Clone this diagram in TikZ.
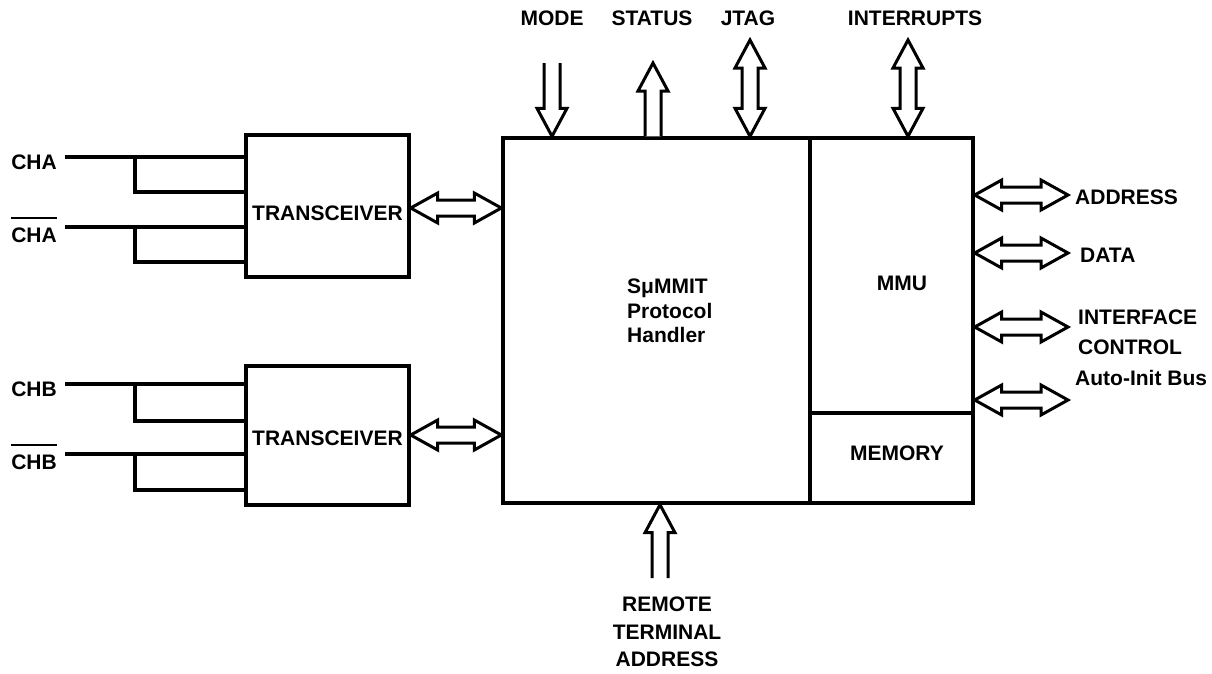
\documentclass[tikz,border=0pt]{standalone}
\usepackage{fontspec}
\setmainfont{Liberation Sans}
\usetikzlibrary{calc}
\newcommand\lblfont{\bfseries\fontsize{21}{27.5}\selectfont}
\tikzset{
  box/.style={draw, line width=3.4pt, inner sep=0pt},
  lbl/.style={inner sep=0pt, font=\lblfont, align=center},
  wire/.style={line width=3.2pt, line cap=rect},
  arr/.style={line width=3pt, line join=miter, fill=white},
  barline/.style={line width=2pt},
}
% horizontal double arrow: #1 left tip, #2 right tip
\newcommand\hdbl[2]{\draw[arr] (#1) -- ($(#1)+(27,-15)$) -- ($(#1)+(27,-8)$) -- ($(#2)+(-27,-8)$) -- ($(#2)+(-27,-15)$) -- (#2) -- ($(#2)+(-27,15)$) -- ($(#2)+(-27,8)$) -- ($(#1)+(27,8)$) -- ($(#1)+(27,15)$) -- cycle;}
% vertical double arrow: #1 top tip, #2 bottom tip
\newcommand\vdbl[2]{\draw[arr] (#1) -- ($(#1)+(15,28)$) -- ($(#1)+(8,28)$) -- ($(#2)+(8,-28)$) -- ($(#2)+(15,-28)$) -- (#2) -- ($(#2)+(-15,-28)$) -- ($(#2)+(-8,-28)$) -- ($(#1)+(-8,28)$) -- ($(#1)+(-15,28)$) -- cycle;}
% up arrow: #1 tip (top), #2 open tail (bottom)
\newcommand\uparr[2]{\draw[arr] ($(#2)+(-8,0)$) -- ($(#1)+(-8,28)$) -- ($(#1)+(-15,28)$) -- (#1) -- ($(#1)+(15,28)$) -- ($(#1)+(8,28)$) -- ($(#2)+(8,0)$);}
% down arrow: #1 open tail (top), #2 tip (bottom)
\newcommand\dnarr[2]{\draw[arr] ($(#1)+(-8,0)$) -- ($(#2)+(-8,-28)$) -- ($(#2)+(-15,-28)$) -- (#2) -- ($(#2)+(15,-28)$) -- ($(#2)+(8,-28)$) -- ($(#1)+(8,0)$);}
\begin{document}
\begin{tikzpicture}[x=1pt,y=-1pt]
\useasboundingbox[fill=white] (0,0) rectangle (1212,673);

% blocks
\node[box, minimum width=163pt, minimum height=142pt] (trx1) at (327.5,206) {};
\node[box, minimum width=163pt, minimum height=139pt] (trx2) at (327.5,435.5) {};
\node[box, minimum width=307pt, minimum height=365pt] (main) at (656.5,320.5) {};
\node[box, minimum width=163pt, minimum height=275pt] (mmu) at (891.5,275.5) {};
\node[box, minimum width=163pt, minimum height=90pt] (mem) at (891.5,458) {};

\node[lbl] (trx1t) at (327.5,213) {TRANSCEIVER};
\node[lbl] (trx2t) at (327.5,438) {TRANSCEIVER};
\node[lbl, anchor=west, align=left, font=\bfseries\fontsize{21}{24.5}\selectfont] (maint) at (627,311) {SμMMIT\\Protocol\\Handler};
\node[lbl] (mmut) at (902,283) {MMU};
\node[lbl] (memt) at (897,453) {MEMORY};

% channel labels
\node[lbl] (cha) at (34,162) {CHA};
\node[lbl] (chan) at (34,235) {CHA};
\draw[barline] ([yshift=9pt]chan.north west) -- ([yshift=9pt]chan.north east);
\node[lbl] (chb) at (34,389) {CHB};
\node[lbl] (chbn) at (34,462) {CHB};
\draw[barline] ([yshift=9pt]chbn.north west) -- ([yshift=9pt]chbn.north east);

% channel wires
\coordinate (w1) at (67,157);  \coordinate (j1) at (135,157); \coordinate (k1) at (135,192);
\coordinate (w2) at (67,227);  \coordinate (j2) at (135,227); \coordinate (k2) at (135,262);
\coordinate (w3) at (67,384);  \coordinate (j3) at (135,384); \coordinate (k3) at (135,421);
\coordinate (w4) at (67,454);  \coordinate (j4) at (135,454); \coordinate (k4) at (135,490);
\draw[wire] (w1) -- (w1 -| trx1.west);
\draw[wire] (j1) -- (k1) -- (k1 -| trx1.west);
\draw[wire] (w2) -- (w2 -| trx1.west);
\draw[wire] (j2) -- (k2) -- (k2 -| trx1.west);
\draw[wire] (w3) -- (w3 -| trx2.west);
\draw[wire] (j3) -- (k3) -- (k3 -| trx2.west);
\draw[wire] (w4) -- (w4 -| trx2.west);
\draw[wire] (j4) -- (k4) -- (k4 -| trx2.west);

% transceiver <-> protocol handler
\coordinate (t1a) at (trx1.east |- 0,208); \coordinate (t1b) at (main.west |- 0,208);
\coordinate (t2a) at (trx2.east |- 0,435); \coordinate (t2b) at (main.west |- 0,435);
\hdbl{t1a}{t1b}
\hdbl{t2a}{t2b}

% top signals
\node[lbl] (mode) at (552,18) {MODE};
\node[lbl] (status) at (652,18) {STATUS};
\node[lbl] (jtag) at (748,18) {JTAG};
\node[lbl] (intr) at (915,18) {INTERRUPTS};
\coordinate (modeA) at (552,63); \coordinate (modeB) at (modeA |- main.north);
\coordinate (statA) at (653,63); \coordinate (statB) at (statA |- main.north);
\coordinate (jtagA) at (750,40); \coordinate (jtagB) at (jtagA |- main.north);
\coordinate (intA) at (908,40); \coordinate (intB) at (intA |- mmu.north);
\dnarr{modeA}{modeB}
\uparr{statA}{statB}
\vdbl{jtagA}{jtagB}
\vdbl{intA}{intB}

% bottom signal
\coordinate (rtaB) at (660,578); \coordinate (rtaA) at (rtaB |- main.south);
\uparr{rtaA}{rtaB}
\node[lbl] (rta) at (667,632) {REMOTE\\TERMINAL\\ADDRESS};

% right side buses
\coordinate (ra1) at (mmu.east |- 0,195); \coordinate (rb1) at (1068,195);
\coordinate (ra2) at (mmu.east |- 0,253); \coordinate (rb2) at (1068,253);
\coordinate (ra3) at (mmu.east |- 0,327); \coordinate (rb3) at (1068,327);
\coordinate (ra4) at (mmu.east |- 0,400); \coordinate (rb4) at (1068,400);
\hdbl{ra1}{rb1}
\hdbl{ra2}{rb2}
\hdbl{ra3}{rb3}
\hdbl{ra4}{rb4}
\node[lbl, anchor=west] (addr) at (1075,197) {ADDRESS};
\node[lbl, anchor=west] (data) at (1080,255) {DATA};
\node[lbl, anchor=west, align=left, font=\bfseries\fontsize{21}{30}\selectfont] (ifc) at (1078,332) {INTERFACE\\CONTROL};
\node[lbl, anchor=west] (aib) at (1075,378) {Auto-Init Bus};
\end{tikzpicture}
\end{document}
